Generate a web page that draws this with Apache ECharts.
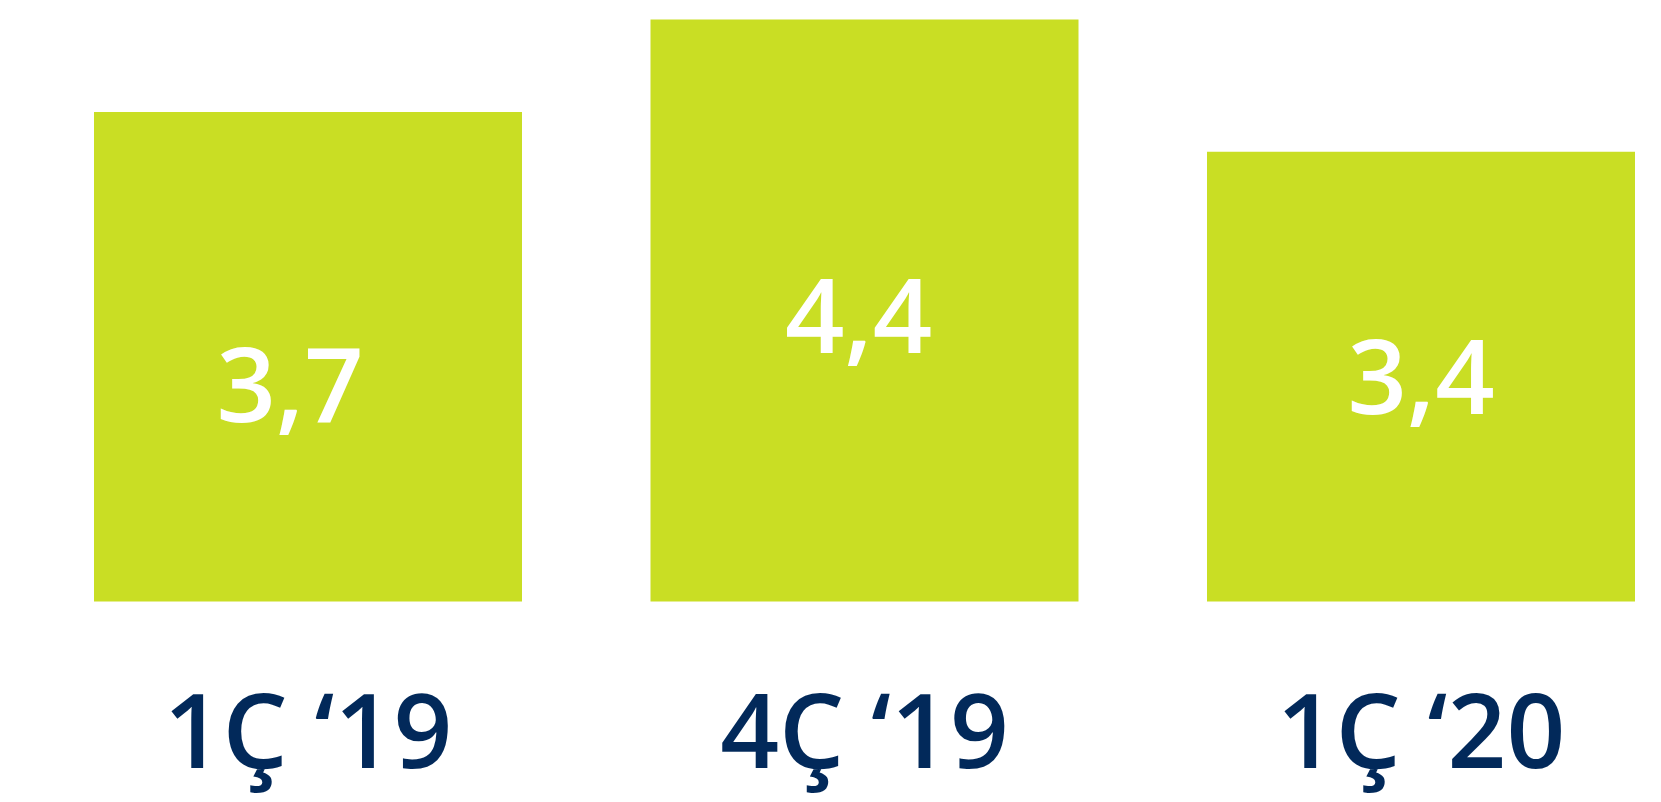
<!DOCTYPE html>
<html><head><meta charset="utf-8">
<script src="https://cdn.jsdelivr.net/npm/echarts@6/dist/echarts.min.js"></script>
<style>html,body{margin:0;padding:0;background:#fff}#c{width:1661px;height:802px}</style>
</head><body><div id="c"></div>
<script>
const categories = ['1Ç ‘19', '4Ç ‘19', '1Ç ‘20'];
const values = [3.7, 4.4, 3.4];
const valueLabels = ['3,7', '4,4', '3,4'];

const labelOffsets = [[-18, 36], [-6, 13], [0, 8]];
const chart = echarts.init(document.getElementById('c'));
chart.setOption({
  animation: false,
  grid: { left: 29.75, width: 1669.5, top: 6.15, height: 595.35, containLabel: false, outerBoundsMode: 'none' },
  xAxis: {
    type: 'category', data: categories,
    axisLine: { show: false }, axisTick: { show: false },
    axisLabel: { color: '#02295a', fontFamily: 'Open Sans', fontWeight: 600, fontSize: 103, margin: 86 }
  },
  yAxis: { type: 'value', min: 0, max: 4.5, show: false, splitLine: { show: false } },
  series: [{
    type: 'bar', barWidth: 428,
    data: values.map((v, i) => ({
      value: v,
      label: { offset: labelOffsets[i] }
    })),
    itemStyle: { color: '#c9de24' },
    label: {
      show: true, position: 'inside', color: '#ffffff',
      fontFamily: 'Open Sans', fontWeight: 600, fontSize: 104,
      formatter: p => valueLabels[p.dataIndex]
    }
  }]
});
</script></body></html>
